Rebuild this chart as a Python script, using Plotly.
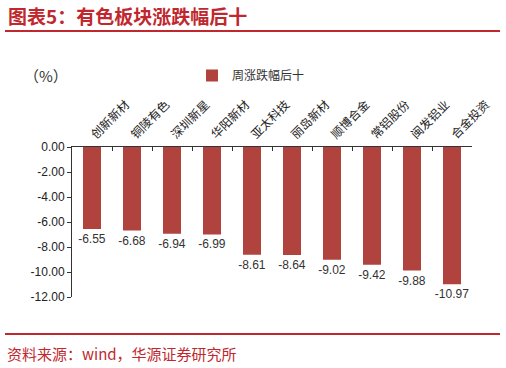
import plotly.graph_objects as go

categories = ["创新新材", "铜陵有色", "深圳新星", "华阳新材", "亚太科技",
              "丽岛新材", "顺博合金", "常铝股份", "闽发铝业", "合金投资"]
values = [-6.55, -6.68, -6.94, -6.99, -8.61, -8.64, -9.02, -9.42, -9.88, -10.97]
series_name = "周涨跌幅后十"
y_ticks = [0, -2, -4, -6, -8, -10, -12]

RED = "#C0282E"
BAR = "#B1433F"
CJK = "Noto Sans CJK SC"

fig = go.Figure()
fig.add_trace(go.Bar(
    x=categories, y=values, name=series_name,
    marker=dict(color=BAR, line=dict(width=0)),
    width=0.45,
    text=[f"{v:.2f}" for v in values],
    textposition="outside",
    constraintext="none",
    textfont=dict(family="Liberation Sans, Arial", size=12, color="#333333"),
    cliponaxis=False,
    showlegend=True,
))

fig.update_layout(
    width=506, height=368,
    margin=dict(l=72, r=34, t=147, b=71),
    paper_bgcolor="white", plot_bgcolor="white",
    showlegend=True,
    legend=dict(orientation="h", x=(192-72)/400, xanchor="left",
                y=1+(147-61)/150, yanchor="top",
                font=dict(family=CJK, size=12, color="#333333"),
                itemwidth=30, bgcolor="rgba(0,0,0,0)"),
    xaxis=dict(side="top", showline=True, linecolor="#333333", linewidth=1,
               ticks="inside", tickson="boundaries", ticklen=4, tickcolor="#333333",
               tickangle=-45,
               tickfont=dict(family=CJK, size=12, color="#222222"),
               showgrid=False, zeroline=False),
    yaxis=dict(range=[-12, 0], tickvals=y_ticks,
               ticktext=[f"{v:.2f}" for v in y_ticks],
               showline=True, linecolor="#333333", linewidth=1,
               ticks="outside", ticklen=4, tickcolor="#333333",
               tickfont=dict(family="Liberation Sans, Arial", size=12, color="#222222"),
               showgrid=False, zeroline=False),
    shapes=[
        dict(type="line", xref="paper", yref="paper",
             x0=-67/400, x1=(500-72)/400, y0=1+(147-31)/150, y1=1+(147-31)/150,
             line=dict(color=RED, width=2)),
        dict(type="line", xref="paper", yref="paper",
             x0=-67/400, x1=(500-72)/400, y0=-(334-297)/150, y1=-(334-297)/150,
             line=dict(color=RED, width=2)),
    ],
    annotations=[
        dict(text="<b>图表5：有色板块涨跌幅后十</b>", xref="paper", yref="paper",
             x=-66/400, y=1+(147-15)/150, xanchor="left", yanchor="middle",
             showarrow=False, font=dict(family=CJK, size=19, color=RED)),
        dict(text="（%）", xref="paper", yref="paper",
             x=-50/400, y=1+(147-76)/150, xanchor="left", yanchor="middle",
             showarrow=False, font=dict(family=CJK, size=15, color="#333333")),
        dict(text="资料来源：wind，华源证券研究所", xref="paper", yref="paper",
             x=-67/400, y=-(353-297)/150, xanchor="left", yanchor="middle",
             showarrow=False, font=dict(family=CJK, size=15, color=RED)),
    ],
)

fig.write_html("out.html")
